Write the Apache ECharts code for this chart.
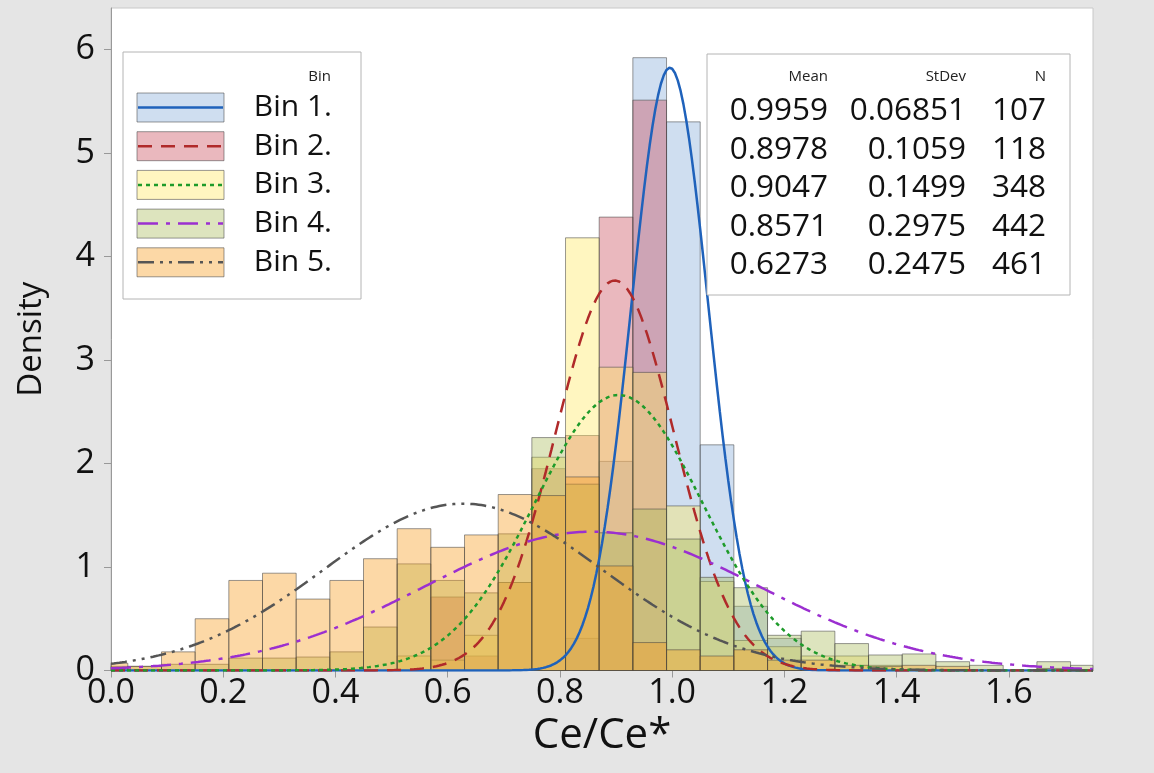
<!DOCTYPE html>
<html>
<head>
<meta charset="utf-8">
<title>Ce/Ce* density by bin</title>
<script src="https://cdn.jsdelivr.net/npm/echarts@6/dist/echarts.min.js"></script>
<style>
  html, body { margin: 0; padding: 0; background: #e5e5e5; }
  #chart { width: 1154px; height: 773px; }
</style>
</head>
<body>
<div id="chart"></div>
<script>
// summary table of the fitted normals
var binNames = ['Bin 1.', 'Bin 2.', 'Bin 3.', 'Bin 4.', 'Bin 5.'];
var means = [0.9959, 0.8978, 0.9047, 0.8571, 0.6273];
var stdevs = [0.06851, 0.1059, 0.1499, 0.2975, 0.2475];
var counts = [107, 118, 348, 442, 461];

// histogram bins (width 0.06), densities
var binWidth = 0.06;
var binCenters = [0.00, 0.06, 0.12, 0.18, 0.24, 0.30, 0.36, 0.42, 0.48, 0.54,
                  0.60, 0.66, 0.72, 0.78, 0.84, 0.90, 0.96, 1.02, 1.08, 1.14,
                  1.20, 1.26, 1.32, 1.38, 1.44, 1.50, 1.56, 1.62, 1.68, 1.74];
var bin1Density = [0, 0, 0, 0, 0, 0, 0, 0, 0, 0,
                   0, 0, 0, 0, 0.31, 2.02, 5.92, 5.30, 2.18, 0.62,
                   0.31, 0, 0, 0, 0, 0, 0, 0, 0, 0];
var bin2Density = [0, 0, 0, 0, 0, 0, 0, 0, 0, 0,
                   0.71, 0.14, 0.85, 1.95, 2.27, 4.38, 5.51, 0, 0, 0,
                   0, 0, 0, 0, 0, 0, 0, 0, 0, 0];
var bin3Density = [0, 0, 0, 0, 0, 0, 0, 0, 0, 0.14,
                   0.10, 0.34, 0.85, 2.06, 4.18, 2.93, 2.88, 1.59, 0.86, 0.29,
                   0.23, 0.14, 0.14, 0.05, 0, 0, 0, 0, 0, 0];
var bin4Density = [0.04, 0.04, 0.06, 0.06, 0.12, 0.12, 0.13, 0.18, 0.42, 1.03,
                   0.87, 0.75, 1.32, 2.25, 1.80, 1.33, 1.56, 1.27, 0.90, 0.80,
                   0.34, 0.38, 0.26, 0.15, 0.16, 0.085, 0.05, 0, 0.085, 0.05];
var bin5Density = [0.07, 0.04, 0.18, 0.50, 0.87, 0.94, 0.69, 0.87, 1.08, 1.37,
                   1.19, 1.31, 1.70, 1.69, 1.87, 1.01, 0.27, 0.20, 0.14, 0.20,
                   0.10, 0.10, 0.05, 0.04, 0.05, 0.04, 0, 0, 0.02, 0];
var densities = [bin1Density, bin2Density, bin3Density, bin4Density, bin5Density];

var fills = ['rgba(135,173,218,0.4)', 'rgba(203,78,93,0.4)', 'rgba(255,233,98,0.4)',
             'rgba(170,188,93,0.4)', 'rgba(248,158,33,0.4)'];
var lineColors = ['#1f62bb', '#b02a2a', '#1e9b2a', '#9b2fd0', '#555555'];
var dashes = ['solid', [14, 9], [4, 4], [20, 8, 4, 8], [16, 6, 3, 6, 3, 6]];
var edge = 'rgba(70,70,70,0.55)';
var font = '"Open Sans", "Noto Sans", sans-serif';

// the curves are the normal fits given by the Mean / StDev table
function fitCurve(k) {
  var pts = [];
  for (var i = 0; i <= 350; i++) {
    var x = i * 0.005;
    var z = (x - means[k]) / stdevs[k];
    pts.push([x, Math.exp(-0.5 * z * z) / (stdevs[k] * Math.sqrt(2 * Math.PI))]);
  }
  return pts;
}

function histItem(fill) {
  return function (params, api) {
    var c = api.value(0), d = api.value(1);
    if (!d) return;
    var p0 = api.coord([c - binWidth / 2, d]);
    var p1 = api.coord([c + binWidth / 2, 0]);
    var cs = params.coordSys;
    var shape = echarts.graphic.clipRectByRect(
      { x: p0[0], y: p0[1], width: p1[0] - p0[0], height: p1[1] - p0[1] },
      { x: cs.x, y: cs.y, width: cs.width, height: cs.height });
    if (!shape) return;
    return { type: 'rect', shape: shape, style: { fill: fill, stroke: edge, lineWidth: 1 } };
  };
}

var series = [];
densities.forEach(function (dens, k) {
  series.push({
    name: binNames[k],
    type: 'custom',
    renderItem: histItem(fills[k]),
    encode: { x: 0, y: 1 },
    data: binCenters.map(function (c, i) { return [c, dens[i]]; }),
    silent: true
  });
});
densities.forEach(function (dens, k) {
  series.push({
    name: binNames[k] + ' fit',
    type: 'line',
    data: fitCurve(k),
    showSymbol: false,
    symbol: 'none',
    clip: true,
    silent: true,
    z: 5,
    lineStyle: { color: lineColors[k], width: 2.5, type: dashes[k] }
  });
});

// legend box and summary table
var graphic = [];
graphic.push({ type: 'rect', shape: { x: 123, y: 52, width: 238, height: 247 },
  style: { fill: '#fff', stroke: '#b4b4b4', lineWidth: 1 }, z: 10 });
graphic.push({ type: 'text', x: 331, y: 77, z: 11,
  style: { text: 'Bin', fontSize: 15, fontFamily: font, fill: '#222', align: 'right', verticalAlign: 'middle' } });
graphic.push({ type: 'rect', shape: { x: 707, y: 54, width: 363, height: 241 },
  style: { fill: '#fff', stroke: '#b4b4b4', lineWidth: 1 }, z: 10 });
var headers = ['Mean', 'StDev', 'N'];
var colRight = [828, 966, 1046];
headers.forEach(function (h, j) {
  graphic.push({ type: 'text', x: colRight[j], y: 77, z: 11,
    style: { text: h, fontSize: 15, fontFamily: font, fill: '#222', align: 'right', verticalAlign: 'middle' } });
});
binNames.forEach(function (name, k) {
  var cy = 107.5 + 38.7 * k;
  graphic.push({ type: 'rect', shape: { x: 137, y: cy - 14.5, width: 87, height: 29 },
    style: { fill: fills[k], stroke: edge, lineWidth: 1 }, z: 11 });
  graphic.push({ type: 'line', shape: { x1: 138, y1: cy, x2: 223, y2: cy }, z: 12,
    style: { stroke: lineColors[k], lineWidth: 2.5, lineDash: dashes[k] === 'solid' ? null : dashes[k] } });
  graphic.push({ type: 'text', x: 332, y: cy, z: 11,
    style: { text: name, fontSize: 30, fontFamily: font, fill: '#111', align: 'right', verticalAlign: 'middle' } });
  var ty = 111.5 + 38.4 * k;
  [String(means[k]), String(stdevs[k]), String(counts[k])].forEach(function (t, j) {
    graphic.push({ type: 'text', x: colRight[j], y: ty, z: 11,
      style: { text: t, fontSize: 31.5, fontFamily: font, fill: '#111', align: 'right', verticalAlign: 'middle' } });
  });
});

var chart = echarts.init(document.getElementById('chart'), null, { renderer: 'canvas' });
chart.setOption({
  animation: false,
  backgroundColor: '#e5e5e5',
  grid: { left: 111, right: 61, top: 8, bottom: 102.5, show: true,
          containLabel: false, outerBoundsMode: 'none',
          backgroundColor: '#fff', borderColor: '#c8c8c8', borderWidth: 1 },
  xAxis: {
    type: 'value', min: 0, max: 1.75, interval: 0.2,
    name: 'Ce/Ce*', nameLocation: 'middle', nameGap: 42,
    nameTextStyle: { fontSize: 42, fontFamily: font, color: '#111' },
    axisLine: { show: true, lineStyle: { color: '#999' } },
    axisTick: { show: true, length: 7, lineStyle: { color: '#999' } },
    splitLine: { show: false },
    axisLabel: { fontSize: 34, fontFamily: font, color: '#111', margin: 6, showMaxLabel: false,
                 formatter: function (v) { return v.toFixed(1); } }
  },
  yAxis: {
    type: 'value', min: 0, max: 6.4, interval: 1,
    name: 'Density', nameLocation: 'middle', nameGap: 63, nameRotate: 90,
    nameTextStyle: { fontSize: 33, fontFamily: font, color: '#111' },
    axisLine: { show: true, lineStyle: { color: '#999' } },
    axisTick: { show: true, length: 7, lineStyle: { color: '#999' } },
    splitLine: { show: false },
    axisLabel: { fontSize: 34, fontFamily: font, color: '#111', margin: 16, showMaxLabel: false }
  },
  graphic: graphic,
  series: series
});
</script>
</body>
</html>
